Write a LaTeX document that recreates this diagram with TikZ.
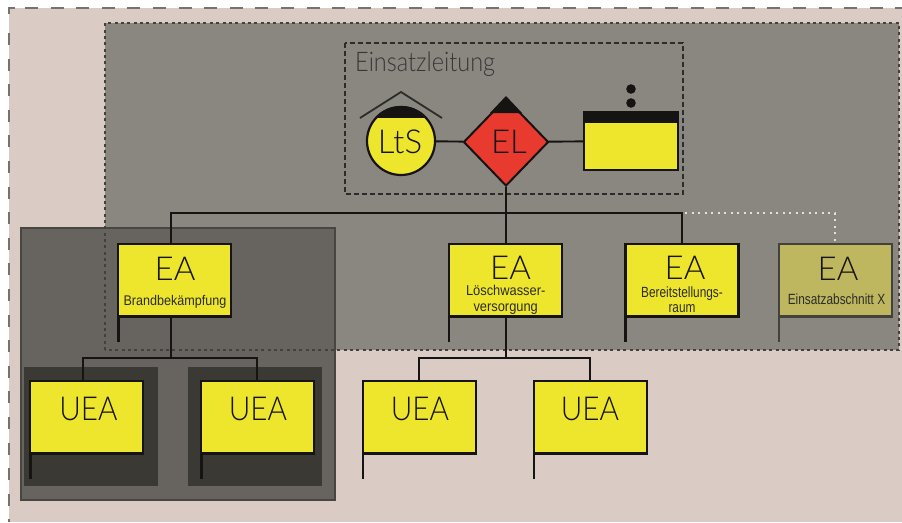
\documentclass[tikz,border=0pt]{standalone}
\usepackage{fontspec}
\usetikzlibrary{shapes.geometric}
\setmainfont{Lato}[UprightFont=* Light]
\newfontfamily\narrowfont{Lato}[UprightFont=* Light,FakeStretch=0.9]
\newfontfamily\smallfont{Liberation Sans}[FakeStretch=0.8]
\newfontfamily\widesmallfont{Liberation Sans}[FakeStretch=0.9]
\definecolor{pinkbg}{HTML}{DACBC4}
\definecolor{midgray}{HTML}{8A8680}
\definecolor{groupgray}{HTML}{67645F}
\definecolor{innerdark}{HTML}{3A3934}
\definecolor{signyellow}{HTML}{EEE62C}
\definecolor{signred}{HTML}{E93A30}
\definecolor{inkblack}{HTML}{151412}
\definecolor{fadedyellow}{HTML}{BFB75F}
\definecolor{dashgray}{HTML}{74736C}
\tikzset{
  conn/.style={draw=inkblack,line width=1.9pt},
  pole/.style={draw=inkblack,line width=2.6pt},
  signbox/.style={draw=inkblack,line width=2.5pt,fill=signyellow,minimum width=113pt,minimum height=72.5pt,inner sep=0pt,outer sep=0pt,anchor=north west},
  big/.style={font=\fontsize{33}{33}\selectfont,text=inkblack,anchor=center,inner sep=0pt},
  bign/.style={font=\narrowfont\fontsize{33}{33}\selectfont,text=inkblack,anchor=center,inner sep=0pt},
  small/.style={text=inkblack!90,align=center,anchor=center,inner sep=0pt},
  outerdash/.style={dashgray,line width=2pt},
}
\begin{document}
\begin{tikzpicture}[x=1pt,y=-1pt]
\useasboundingbox (0,0) rectangle (902,522);
\fill[pinkbg] (9,8) rectangle (902,522);
\draw[outerdash] (9,14) -- (9,8) -- (15,8);
\draw[outerdash,dash pattern=on 13pt off 12.6pt] (25,8) -- (902,8);
\draw[outerdash,dash pattern=on 12pt off 13.6pt] (9,33) -- (9,522);
\fill[midgray] (105,23) rectangle (899,350);
\fill[groupgray,draw=innerdark!70!groupgray,line width=1.5pt] (21,228) rectangle (335,500);
\fill[innerdark] (24,367) rectangle (158,486);
\fill[innerdark] (188,367) rectangle (322,486);
\draw[innerdark!90!midgray,line width=2.1pt,dash pattern=on 3pt off 3.35pt] (105,350) -- (105,23) -- (899,23) -- (899,350) -- cycle;
\draw[inkblack!90,line width=1.3pt,dash pattern=on 5pt off 3pt] (345,43) rectangle (683,194);
\node[font=\fontsize{27}{27}\selectfont\addfontfeature{FakeStretch=0.87},text=inkblack!85,anchor=base west,inner sep=0pt] (title) at (355,71) {Einsatzleitung};

% top row
\node[circle,draw=inkblack,line width=2.2pt,fill=signyellow,minimum size=68pt,inner sep=0pt] (lts) at (401,141) {};
\begin{scope}
\clip (401,141) circle (35pt);
\fill[inkblack] (360,104) rectangle (442,118);
\end{scope}
\node[big] (ltslabel) at (400,142) {LtS};
\coordinate (roofl) at (360,118);
\coordinate (rooft) at (401,92);
\coordinate (roofr) at (442,118);
\draw[inkblack!90,line width=1.8pt] (roofl) -- (rooft) -- (roofr);

\node[diamond,draw=inkblack,line width=2pt,fill=signred,minimum width=85pt,minimum height=88pt,inner sep=0pt] (el) at (506,142) {};
\fill[inkblack] (506,96) -- (490,113) -- (522,113) -- cycle;
\node[big] (ellabel) at (509,142) {EL};

\node[draw=inkblack,line width=2.5pt,fill=signyellow,minimum width=94pt,minimum height=58pt,inner sep=0pt,outer sep=0pt,anchor=north west] (res) at (584,112) {};
\fill[inkblack] (583,111) rectangle (679,123);
\fill[inkblack] (631,89) circle (4.8pt);
\fill[inkblack] (631,103) circle (4.8pt);
\draw[conn] (lts) -- (el);
\draw[conn] (el) -- (res);

% boxes
\node[signbox] (ea1) at (118.2,244.2) {};
\node[signbox] (ea2) at (449,244.2) {};
\node[signbox] (ea3) at (625.5,244.2) {};
\node[signbox,draw=innerdark!90!midgray,fill=fadedyellow] (ea4) at (779,244.2) {};
\node[signbox] (u1) at (30.2,381.2) {};
\node[signbox] (u2) at (201.2,381.2) {};
\node[signbox] (u3) at (363,381.2) {};
\node[signbox] (u4) at (534,381.2) {};

% connectors
\coordinate (j1) at (171,213);
\coordinate (j3) at (682,213);
\coordinate (jx) at (835,213);
\draw[conn] (el.south) -- (506,243);
\draw[conn] (171,243) -- (j1) -- (j3) -- (682,243);
\draw[white!75!midgray,line width=1.5pt,dash pattern=on 2pt off 4.5pt] (j3) ++(3,0) -- (jx) -- (835,243);
\coordinate (t1) at (171,358);
\coordinate (t2) at (506,358);
\draw[conn] (171,318) -- (t1);
\draw[conn] (83,380) -- (83,358) -- (257,358) -- (257,380);
\draw[conn] (506,318) -- (t2);
\draw[conn] (419,380) -- (419,358) -- (590,358) -- (590,380);

% poles
\draw[pole] (118.2,316) -- (118.2,342);
\draw[pole] (449,316) -- (449,342);
\draw[pole] (625.5,316) -- (625.5,342);
\draw[pole,draw=innerdark!90!midgray] (779,316) -- (779,342);
\draw[pole] (30.2,453) -- (30.2,479);
\draw[pole] (201.2,453) -- (201.2,479);
\draw[pole] (363,453) -- (363,479);
\draw[pole] (534,453) -- (534,479);

% labels
\node[big] (l1) at (175,269) {EA};
\node[small,font=\widesmallfont\fontsize{14}{16}\selectfont] (s1) at (175,302) {Brandbekämpfung};
\node[big] (l2) at (510.5,268) {EA};
\node[small,font=\widesmallfont\fontsize{14.3}{16}\selectfont] (s2) at (505.7,300) {Löschwasser-\\versorgung};
\node[big] (l3) at (685,268) {EA};
\node[small,font=\smallfont\fontsize{14.8}{15}\selectfont] (s3) at (682,299.5) {Bereitstellungs-\\raum};
\node[big] (l4) at (838,269) {EA};
\node[small,font=\smallfont\fontsize{14.8}{15}\selectfont] (s4) at (836.5,299) {Einsatzabschnitt X};
\node[bign] (lu1) at (88.5,409) {UEA};
\node[bign] (lu2) at (258,409) {UEA};
\node[bign] (lu3) at (420,409) {UEA};
\node[bign] (lu4) at (590,409) {UEA};
\end{tikzpicture}
\end{document}
